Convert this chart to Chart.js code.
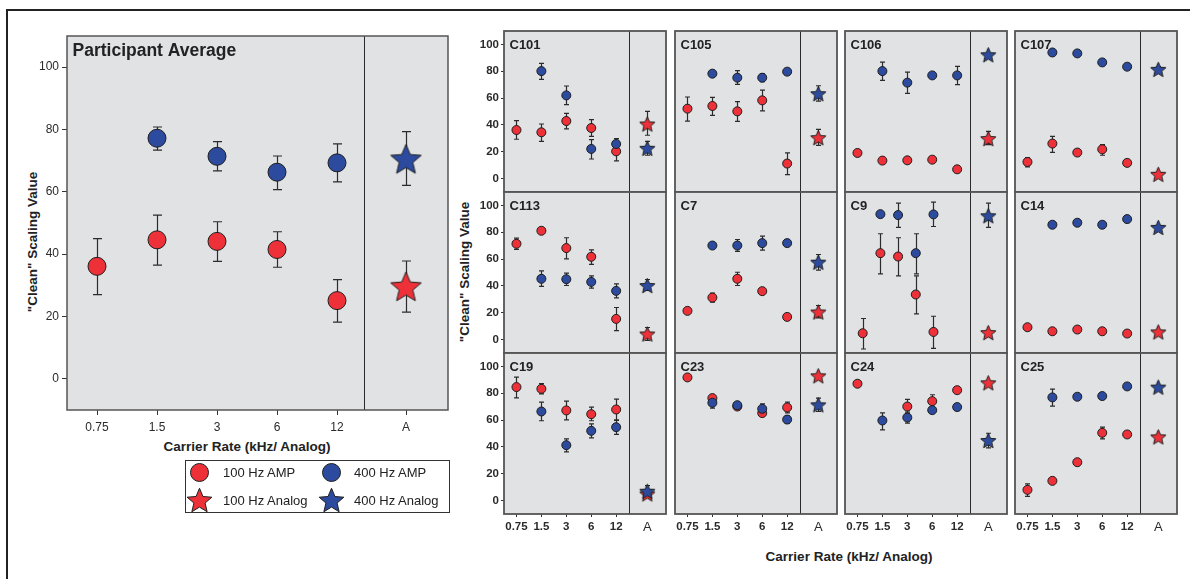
<!DOCTYPE html>
<html>
<head>
<meta charset="utf-8">
<title>"Clean" scaling values by carrier rate</title>
<script src="https://cdn.jsdelivr.net/npm/chart.js@4.4.1/dist/chart.umd.min.js"></script>
<style>
  html, body { margin: 0; padding: 0; background: #fff; }
  body { position: relative; width: 1190px; height: 579px; overflow: hidden;
         font-family: "Liberation Sans", Arial, sans-serif; color: #222; }
  #frame { position: absolute; left: 6px; top: 9px; width: 1300px; height: 700px;
           border-left: 2px solid #222; border-top: 2px solid #222; }
  canvas { position: absolute; }
  .title { position: absolute; font-weight: bold; font-size: 13.5px; white-space: nowrap; line-height: 1; }
  .ytitle { transform: translate(-50%, -50%) rotate(-90deg); }
  .xtitle { transform: translate(-50%, -50%); }
  #legend { position: absolute; left: 185px; top: 460px; width: 263px; height: 51px;
            border: 1px solid #333; background: #fff; }
  #legend canvas { left: 0; top: 0; }
  #legend span { position: absolute; font-size: 13px; line-height: 1; transform: translateY(-50%); color: #222; }
</style>
</head>
<body>
<div id="frame"></div>

<div class="title ytitle" style="left:33px; top:242px">"Clean" Scaling Value</div>
<div class="title xtitle" style="left:247px; top:447px">Carrier Rate (kHz/ Analog)</div>
<div class="title ytitle" style="left:465px; top:272px">"Clean" Scaling Value</div>
<div class="title xtitle" style="left:849px; top:557px">Carrier Rate (kHz/ Analog)</div>

<div id="legend">
  <canvas id="legendIcons" width="263" height="51"></canvas>
  <span style="left:37px; top:11px">100 Hz AMP</span>
  <span style="left:168px; top:11px">400 Hz AMP</span>
  <span style="left:37px; top:39px">100 Hz Analog</span>
  <span style="left:168px; top:39px">400 Hz Analog</span>
</div>

<script>
// ---------------------------------------------------------------------------
// "Clean" scaling values: participant average plus 12 single-listener panels.
// Circles = AMP carrier rates, stars = analog (A). Red = 100 Hz, blue = 400 Hz.
// ---------------------------------------------------------------------------

const TICK_LABELS = ["0.75", "1.5", "3", "6", "12", "A"];
const Y_TICKS = [0, 20, 40, 60, 80, 100];

// panel 0 is the big "Participant Average" chart
const PANEL_NAMES = ["Participant Average", "C101", "C105", "C106", "C107",
  "C113", "C7", "C9", "C14", "C19", "C23", "C24", "C25"];

// C9 was plotted with its own (compressed) carrier positions
const C9_X = [0.21, 0.92, 1.63, 2.34, 3.05];

// --- 100 Hz AMP (0.75, 1.5, 3, 6, 12 kHz) ----------------------------------
const RED_AMP = [
  [36.1, 44.6, 44.1, 41.5, 25.1],
  [36.2, 34.5, 42.9, 37.7, 20.3],
  [52.1, 54.1, 50.1, 58.3, 11.2],
  [19.1, 13.4, 13.6, 14.1, 6.9],
  [12.4, 26.1, 19.4, 21.8, 11.7],
  [71.4, 81.1, 68.2, 61.7, 15.4],
  [21.4, 31.3, 45.3, 36.1, 16.9],
  [4.7, 64.4, 61.9, 33.6, 5.7],
  [9.2, 6.2, 7.5, 6.2, 4.5],
  [84.6, 83.3, 67.2, 64.4, 67.9],
  [91.8, 76.4, 70.1, 65.2, 69.4],
  [87.1, null, 70.1, 74.1, 82.3],
  [8.0, 14.7, 28.6, 50.5, 49.3],
];
const RED_AMP_LO = [
  [27.0, 36.5, 37.7, 35.8, 18.2],
  [29.3, 27.8, 37.0, 31.5, 13.2],
  [42.9, 47.1, 42.7, 50.4, 3.0],
  null,
  [8.7, 19.6, null, 17.4, null],
  [67.2, null, 60.2, 56.0, 6.7],
  [null, 27.9, 40.3, null, null],
  [-7.0, 49.0, 47.5, 19.2, -6.5],
  null,
  [76.6, 79.6, 60.2, 59.5, 60.2],
  [null, null, null, null, 65.4],
  [null, null, 64.9, 69.4, null],
  [3.2, null, null, 46.0, null],
];
const RED_AMP_HI = [
  [45.0, 52.5, 50.4, 47.2, 31.8],
  [43.2, 40.7, 48.6, 43.9, 27.0],
  [60.8, 60.5, 57.3, 66.0, 19.1],
  null,
  [15.6, 31.5, null, 25.3, null],
  [75.6, null, 75.9, 66.9, 23.9],
  [null, 34.6, 50.2, null, null],
  [15.7, 78.9, 75.9, 47.5, 17.4],
  null,
  [92.0, 87.1, 74.1, 69.7, 75.6],
  [null, null, null, null, 73.4],
  [null, null, 75.4, 78.9, null],
  [12.4, null, null, 54.7, null],
];

// --- 400 Hz AMP (no 0.75 kHz condition) -------------------------------------
const BLUE_AMP = [
  [null, 77.2, 71.4, 66.3, 69.3],
  [null, 80.1, 62.0, 22.1, 25.8],
  [null, 78.2, 75.2, 75.2, 79.7],
  [null, 80.1, 71.5, 76.9, 76.9],
  [null, 94.0, 93.3, 86.6, 83.4],
  [null, 45.3, 45.0, 43.0, 36.3],
  [null, 70.1, 70.1, 71.9, 71.9],
  [null, 93.5, 92.8, 64.4, 93.3],
  [null, 85.6, 87.1, 85.6, 89.8],
  [null, 66.4, 41.3, 52.0, 54.7],
  [null, 72.9, 71.1, 68.4, 60.4],
  [null, 59.7, 61.9, 67.4, 69.7],
  [null, 76.9, 77.4, 77.9, 85.1],
];
const BLUE_AMP_LO = [
  [null, 73.4, 66.7, 60.7, 63.2],
  [null, 73.9, 55.1, 14.6, 22.3],
  [null, 75.7, 70.2, 72.2, 77.7],
  [null, 73.2, 63.5, null, 70.0],
  [null, null, null, null, 81.4],
  [null, 39.6, 40.3, 38.3, 31.1],
  [null, null, 65.7, 66.7, null],
  [null, null, 83.6, 49.0, 84.3],
  null,
  [null, 59.5, 36.3, 46.8, 49.3],
  [null, 68.9, null, 64.7, 57.5],
  [null, 52.7, 57.7, null, null],
  [null, 70.4, null, null, null],
];
const BLUE_AMP_HI = [
  [null, 80.8, 76.1, 71.5, 75.4],
  [null, 85.9, 69.0, 29.0, 29.8],
  [null, 80.6, 80.4, 78.2, 81.6],
  [null, 86.8, 79.4, null, 83.6],
  [null, null, null, null, 85.4],
  [null, 51.2, 49.5, 47.5, 41.5],
  [null, null, 74.6, 77.1, null],
  [null, null, 101.7, 78.9, 102.5],
  null,
  [null, 73.4, 46.0, 57.2, 59.7],
  [null, 76.9, null, 72.1, 63.4],
  [null, 65.4, 65.9, null, null],
  [null, 83.1, null, null, null],
];

// --- Analog (A), one value per panel -----------------------------------------
const RED_ANALOG    = [29.7, 40.7, 30.5, 29.8, 3.2, 4.2, 20.6, 5.2, 5.7, 5.0, 93.0, 87.8, 47.5];
const RED_ANALOG_LO = [21.4, 32.3, 24.8, 25.3, null, -0.7, 16.2, null, null, null, null, null, null];
const RED_ANALOG_HI = [37.8, 50.1, 36.7, 35.2, null, 9.0, 25.4, null, null, null, null, null, null];
const BLUE_ANALOG    = [70.6, 22.6, 63.3, 92.3, 81.4, 40.3, 57.7, 92.3, 83.6, 7.0, 71.4, 44.8, 84.6];
const BLUE_ANALOG_LO = [62.1, 17.4, 57.8, null, 79.4, 36.6, 51.7, 83.6, null, 2.5, 66.4, 39.3, null];
const BLUE_ANALOG_HI = [79.3, 27.8, 69.2, null, 83.4, 44.8, 63.4, 101.7, null, 11.2, 76.4, 50.2, null];

// --- look -------------------------------------------------------------------
const RED = "#ee3139";
const BLUE = "#2c4b9e";
const EDGE = "#1e1e1e";
const PANEL_BG = "#e1e2e4";
Chart.defaults.font.family = '"Liberation Sans", Arial, sans-serif';

// small grid of single-listener panels
const COL_LEFT = [504, 675, 845, 1015];
const ROW_TOP = [31, 192, 353];
const PANEL_W = 162, PANEL_H = 161;

// --- small helpers ------------------------------------------------------------

function drawStar(g, cx, cy, R, fill) {
  g.beginPath();
  for (let i = 0; i < 10; i++) {
    const r = i % 2 ? R * 0.45 : R;
    const a = -Math.PI / 2 + i * Math.PI / 5;
    g.lineTo(cx + r * Math.cos(a), cy + r * Math.sin(a));
  }
  g.closePath();
  g.fillStyle = fill;
  g.fill();
  g.strokeStyle = EDGE;
  g.lineWidth = 1;
  g.stroke();
}

// a filled five-point star as an image point style
function starImage(fill, R) {
  const size = Math.ceil(R * 2 + 3);
  const c = document.createElement("canvas");
  c.width = size; c.height = size;
  drawStar(c.getContext("2d"), size / 2, size / 2 + R * 0.095, R, fill);
  return c;
}

function series(vals, lo, hi, xs) {
  const data = [], errLo = [], errHi = [];
  vals.forEach((v, j) => {
    if (v == null) return;
    data.push({ x: xs[j], y: v });
    errLo.push(lo ? lo[j] : null);
    errHi.push(hi ? hi[j] : null);
  });
  return { data, errLo, errHi };
}

// gray plot area, frame, analog divider and the panel name
const panelDeco = {
  id: "panelDeco",
  beforeDraw(chart) {
    const { ctx, chartArea: a } = chart;
    ctx.save();
    ctx.fillStyle = PANEL_BG;
    ctx.fillRect(a.left, a.top, a.right - a.left, a.bottom - a.top);
    ctx.restore();
  },
  beforeDatasetsDraw(chart, args, o) {
    const { ctx, chartArea: a, scales: { x } } = chart;
    ctx.save();
    const dx = Math.round(x.getPixelForValue(o.divider)) + 0.5;
    ctx.strokeStyle = "#2a2a2a";
    ctx.lineWidth = 1;
    ctx.beginPath(); ctx.moveTo(dx, a.top); ctx.lineTo(dx, a.bottom); ctx.stroke();
    ctx.strokeStyle = "#555";
    ctx.lineWidth = o.frame;
    ctx.strokeRect(a.left, a.top, a.right - a.left, a.bottom - a.top);
    ctx.fillStyle = "#222";
    ctx.font = o.font;
    ctx.textBaseline = "alphabetic";
    ctx.fillText(o.label, a.left + o.labelDx, a.top + o.labelDy);
    ctx.restore();
  },
};

// vertical error bars with caps, drawn under the markers
const errorBars = {
  id: "errorBars",
  beforeDatasetsDraw(chart, args, o) {
    const { ctx, scales: { x, y } } = chart;
    ctx.save();
    ctx.strokeStyle = "#2b2b2b";
    ctx.lineWidth = 1.2;
    chart.data.datasets.forEach((ds) => {
      ds.data.forEach((p, k) => {
        const lo = ds.errLo[k], hi = ds.errHi[k];
        if (lo == null || hi == null) return;
        const px = Math.round(x.getPixelForValue(p.x)) + 0.5;
        const y1 = y.getPixelForValue(lo), y2 = y.getPixelForValue(hi);
        ctx.beginPath();
        ctx.moveTo(px, y1); ctx.lineTo(px, y2);
        ctx.moveTo(px - o.cap, y1); ctx.lineTo(px + o.cap, y1);
        ctx.moveTo(px - o.cap, y2); ctx.lineTo(px + o.cap, y2);
        ctx.stroke();
      });
    });
    ctx.restore();
  },
};

// --- one chart per panel -----------------------------------------------------

function buildPanel(p) {
  const big = p === 0;
  const col = (p - 1) % 4, row = Math.floor((p - 1) / 4);

  const area = big
    ? { left: 67, top: 36, w: 381, h: 374 }
    : { left: COL_LEFT[col], top: ROW_TOP[row], w: PANEL_W, h: PANEL_H };
  const showY = big || col === 0;
  const showX = big || row === 2;
  const yW = big ? 57 : (showY ? 36 : 2);
  const xH = big ? 28 : (showX ? 26 : 2);
  const pad = big ? 3 : 2;

  const canvas = document.createElement("canvas");
  canvas.width = area.w + yW + pad;
  canvas.height = area.h + pad + xH;
  canvas.style.left = (area.left - yW) + "px";
  canvas.style.top = (area.top - pad) + "px";
  document.body.appendChild(canvas);

  const xs = PANEL_NAMES[p] === "C9" ? C9_X : [0, 1, 2, 3, 4];
  const aX = big ? 5.15 : 5.25;
  const xTickPos = [0, 1, 2, 3, 4, aX];
  const r = big ? 9 : 4.5;
  const starR = big ? 16 : 8;

  const redAmp = series(RED_AMP[p], RED_AMP_LO[p], RED_AMP_HI[p], xs);
  const blueAmp = series(BLUE_AMP[p], BLUE_AMP_LO[p], BLUE_AMP_HI[p], xs);
  const redA = series([RED_ANALOG[p]], [RED_ANALOG_LO[p]], [RED_ANALOG_HI[p]], [aX]);
  const blueA = series([BLUE_ANALOG[p]], [BLUE_ANALOG_LO[p]], [BLUE_ANALOG_HI[p]], [aX]);

  const circle = (fill) => ({ pointStyle: "circle", pointRadius: r, backgroundColor: fill,
    borderColor: EDGE, borderWidth: 1 });
  const star = (fill) => ({ pointStyle: starImage(fill, starR), pointRadius: starR });

  // first dataset is painted last, so blue sits on top of red
  const datasets = [
    { label: "400 Hz Analog", ...blueA, ...star(BLUE) },
    { label: "400 Hz AMP", ...blueAmp, ...circle(BLUE) },
    { label: "100 Hz Analog", ...redA, ...star(RED) },
    { label: "100 Hz AMP", ...redAmp, ...circle(RED) },
  ];

  new Chart(canvas, {
    type: "scatter",
    data: { datasets },
    options: {
      animation: false,
      responsive: false,
      events: [],
      clip: false,
      layout: { autoPadding: false, padding: { top: pad, right: pad, left: 0, bottom: 0 } },
      plugins: {
        legend: { display: false },
        tooltip: { enabled: false },
        panelDeco: {
          divider: big ? 4.45 : 4.5,
          frame: big ? 1.5 : 1.8,
          label: PANEL_NAMES[p],
          font: big ? "bold 17.5px 'Liberation Sans', Arial, sans-serif"
                    : "bold 13px 'Liberation Sans', Arial, sans-serif",
          labelDx: big ? 5.5 : 5.5,
          labelDy: big ? 20 : 17.5,
        },
        errorBars: { cap: big ? 4.5 : 2.5 },
      },
      scales: {
        x: {
          type: "linear",
          min: -0.5,
          max: big ? 5.85 : 6,
          afterBuildTicks: (s) => { s.ticks = xTickPos.map((v) => ({ value: v })); },
          afterFit: (s) => { s.height = xH; s.paddingLeft = 0; s.paddingRight = 0; },
          border: { display: false },
          grid: {
            drawOnChartArea: false,
            drawTicks: showX,
            tickLength: big ? 5 : 3,
            tickWidth: 1,
            tickColor: (c) => (!big && c.index === 5 ? "rgba(0,0,0,0)" : "#333"),
          },
          ticks: {
            display: showX,
            autoSkip: false,
            maxRotation: 0,
            minRotation: 0,
            padding: big ? 5 : 3,
            color: "#2a2a2a",
            font: (c) => big ? { size: 12 }
              : (c.index === 5 ? { size: 13, weight: "normal" } : { size: 11.5, weight: "bold" }),
            callback: (v, i) => TICK_LABELS[i],
          },
        },
        y: {
          type: "linear",
          min: -10,
          max: 110,
          afterBuildTicks: (s) => { s.ticks = Y_TICKS.map((v) => ({ value: v })); },
          afterFit: (s) => { s.width = yW; s.paddingTop = 0; s.paddingBottom = 0; },
          border: { display: false },
          grid: {
            drawOnChartArea: false,
            drawTicks: showY,
            tickLength: big ? 5 : 3,
            tickWidth: 1,
            tickColor: "#333",
          },
          ticks: {
            display: showY,
            padding: big ? 3 : 2,
            color: "#2a2a2a",
            font: big ? { size: 12 } : { size: 11.5, weight: "bold" },
          },
        },
      },
    },
    plugins: [panelDeco, errorBars],
  });
}

PANEL_NAMES.forEach((name, p) => buildPanel(p));

// --- legend icons --------------------------------------------------------------

(function drawLegendIcons() {
  const g = document.getElementById("legendIcons").getContext("2d");
  [[13.5, RED], [145.5, BLUE]].forEach(([x, fill]) => {
    g.beginPath();
    g.arc(x, 11.5, 9, 0, Math.PI * 2);
    g.fillStyle = fill;
    g.fill();
    g.strokeStyle = EDGE;
    g.lineWidth = 1;
    g.stroke();
    drawStar(g, x, 39 + 13 * 0.095, 13, fill);
  });
})();
</script>
</body>
</html>
